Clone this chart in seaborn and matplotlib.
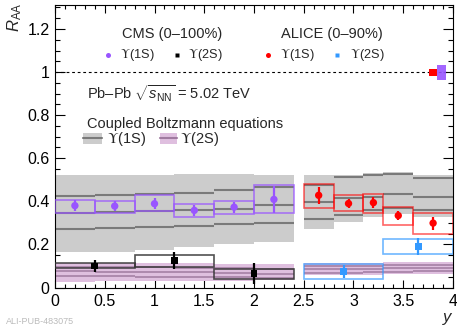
import numpy as np
import pandas as pd
import matplotlib
matplotlib.use("Agg")
import matplotlib.pyplot as plt
import seaborn as sns
from matplotlib.patches import Rectangle

# ---------------- data ----------------
# CMS Upsilon(1S), 0-100%
cms1s_lo = [0.0, 0.4, 0.8, 1.2, 1.6, 2.0]
cms1s_hi = [0.4, 0.8, 1.2, 1.6, 2.0, 2.4]
cms1s_x = [0.2, 0.6, 1.0, 1.4, 1.8, 2.2]
cms1s_val = [0.380, 0.378, 0.389, 0.358, 0.373, 0.409]
cms1s_stat = [0.024, 0.022, 0.026, 0.026, 0.026, 0.062]
cms1s_sys_lo = [0.346, 0.346, 0.355, 0.327, 0.343, 0.346]
cms1s_sys_hi = [0.405, 0.402, 0.431, 0.389, 0.400, 0.474]

# CMS Upsilon(2S), 0-100%
cms2s_lo = [0.0, 0.8, 1.6]
cms2s_hi = [0.8, 1.6, 2.4]
cms2s_x = [0.4, 1.2, 2.0]
cms2s_val = [0.100, 0.126, 0.064]
cms2s_stat = [0.027, 0.040, 0.050]
cms2s_sys_lo = [0.090, 0.094, 0.040]
cms2s_sys_hi = [0.112, 0.152, 0.084]

# ALICE Upsilon(1S), 0-90%
alice1s_lo = [2.5, 2.8, 3.1, 3.3, 3.6]
alice1s_hi = [2.8, 3.1, 3.3, 3.6, 4.0]
alice1s_x = [2.65, 2.95, 3.2, 3.45, 3.8]
alice1s_val = [0.428, 0.390, 0.394, 0.334, 0.299]
alice1s_stat = [0.040, 0.021, 0.026, 0.020, 0.030]
alice1s_sys_lo = [0.371, 0.353, 0.347, 0.291, 0.250]
alice1s_sys_hi = [0.482, 0.428, 0.436, 0.374, 0.347]

# ALICE Upsilon(2S), 0-90%
alice2s_lo = [2.5, 3.3]
alice2s_hi = [3.3, 4.0]
alice2s_x = [2.9, 3.65]
alice2s_val = [0.074, 0.192]
alice2s_stat = [0.030, 0.039]
alice2s_sys_lo = [0.040, 0.155]
alice2s_sys_hi = [0.110, 0.226]

# global uncertainties at unity
glob_x_lo = [3.76, 3.84]
glob_x_hi = [3.84, 3.93]
glob_lo = [0.983, 0.963]
glob_hi = [1.014, 1.033]

# Coupled Boltzmann model, Upsilon(1S)
mod_lo = [0.0, 0.4, 0.8, 1.2, 1.6, 2.0, 2.5, 2.8, 3.1, 3.3, 3.6]
mod_hi = [0.4, 0.8, 1.2, 1.6, 2.0, 2.4, 2.8, 3.1, 3.3, 3.6, 4.0]
m1s_top = [0.521, 0.521, 0.524, 0.526, 0.526, 0.522, 0.521, 0.520, 0.530, 0.535, 0.520]
m1s_bot = [0.164, 0.167, 0.176, 0.188, 0.204, 0.212, 0.273, 0.304, 0.327, 0.339, 0.327]
m1s_up = [0.423, 0.428, 0.436, 0.440, 0.453, 0.465, 0.478, 0.513, 0.521, 0.527, 0.510]
m1s_mid = [0.346, 0.350, 0.356, 0.358, 0.366, 0.381, 0.397, 0.416, 0.420, 0.432, 0.420]
m1s_low = [0.273, 0.276, 0.280, 0.287, 0.295, 0.299, 0.318, 0.336, 0.358, 0.370, 0.358]

# Coupled Boltzmann model, Upsilon(2S)
m2s_top = [0.114, 0.114, 0.113, 0.112, 0.111, 0.110, 0.112, 0.112, 0.113, 0.118, 0.118]
m2s_bot = [0.027, 0.028, 0.029, 0.030, 0.031, 0.033, 0.058, 0.058, 0.060, 0.063, 0.064]
m2s_up = [0.096, 0.095, 0.094, 0.092, 0.090, 0.086, 0.099, 0.099, 0.100, 0.104, 0.105]
m2s_mid = [0.075, 0.074, 0.072, 0.070, 0.067, 0.065, 0.084, 0.084, 0.085, 0.089, 0.090]
m2s_low = [0.053, 0.052, 0.051, 0.049, 0.047, 0.045, 0.069, 0.069, 0.070, 0.074, 0.075]

x_ticks = [0, 0.5, 1, 1.5, 2, 2.5, 3, 3.5, 4]
x_ticklabels = ["0", "0.5", "1", "1.5", "2", "2.5", "3", "3.5", "4"]
y_ticks = [0, 0.2, 0.4, 0.6, 0.8, 1.0, 1.2]
y_ticklabels = ["0", "0.2", "0.4", "0.6", "0.8", "1", "1.2"]

# ---------------- style ----------------
sns.set_theme(style="ticks")
plt.rcParams["font.family"] = ["Liberation Sans", "DejaVu Sans"]
plt.rcParams["mathtext.fontset"] = "custom"
plt.rcParams["mathtext.rm"] = "Liberation Sans"
plt.rcParams["mathtext.it"] = "Liberation Sans:italic"
plt.rcParams["mathtext.bf"] = "Liberation Sans:bold"

VIOLET = "#9955ff"
RED = "#ff0000"
BLUE = "#3399ff"
GRAY_FILL = "#cccccc"
GRAY_LINE = "#7a7a7a"
PINK_FILL = "#dfbfdf"
PINK_LINE = "#a07aa0"

fig = plt.figure(figsize=(4.57, 3.27), dpi=100)
ax = fig.add_axes([55 / 457, 1 - 287.5 / 327, 398 / 457, (287.5 - 4.7) / 327])

# ---- model bands ----
for lo, hi, t, b, u, m, l in zip(mod_lo, mod_hi, m1s_top, m1s_bot, m1s_up, m1s_mid, m1s_low):
    ax.fill_between([lo, hi], [b, b], [t, t], color=GRAY_FILL, lw=0, zorder=1)
    ax.hlines([u, m, l], lo, hi, color=GRAY_LINE, lw=1.5, zorder=2)
for lo, hi, t, b, u, m, l in zip(mod_lo, mod_hi, m2s_top, m2s_bot, m2s_up, m2s_mid, m2s_low):
    ax.fill_between([lo, hi], [b, b], [t, t], color=PINK_FILL, lw=0, zorder=1)
    ax.hlines([u, m, l], lo, hi, color=PINK_LINE, lw=1.1, zorder=2)

# ---- systematic boxes ----
def boxes(los, his, ylo, yhi, color, alpha=1.0):
    for lo, hi, a, b in zip(los, his, ylo, yhi):
        ax.add_patch(Rectangle((lo, a), hi - lo, b - a, fill=False,
                               edgecolor=color, lw=1.2, alpha=alpha, zorder=3))

boxes(cms1s_lo, cms1s_hi, cms1s_sys_lo, cms1s_sys_hi, VIOLET, 0.75)
boxes(cms2s_lo, cms2s_hi, cms2s_sys_lo, cms2s_sys_hi, "#333333", 0.85)
boxes(alice1s_lo, alice1s_hi, alice1s_sys_lo, alice1s_sys_hi, RED, 0.6)
boxes(alice2s_lo, alice2s_hi, alice2s_sys_lo, alice2s_sys_hi, BLUE, 0.7)

# ---- global uncertainty boxes ----
ax.axhline(1.0, color="black", lw=0.8, ls=(0, (2.5, 2.5)), zorder=2)
for lo, hi, a, b, c in zip(glob_x_lo, glob_x_hi, glob_lo, glob_hi, [RED, VIOLET]):
    ax.add_patch(Rectangle((lo, a), hi - lo, b - a, facecolor=c, edgecolor="none",
                           alpha=0.9 if c == VIOLET else 1.0, zorder=4))

# ---- points with statistical errors ----
sets = [
    (cms1s_x, cms1s_val, cms1s_stat, VIOLET, "o", 28),
    (cms2s_x, cms2s_val, cms2s_stat, "black", "s", 24),
    (alice1s_x, alice1s_val, alice1s_stat, RED, "o", 28),
    (alice2s_x, alice2s_val, alice2s_stat, BLUE, "s", 24),
]
for xs, ys, es, c, mk, s in sets:
    ax.errorbar(xs, ys, yerr=es, fmt="none", ecolor=c, elinewidth=1.6, capsize=0, zorder=5)
    df = pd.DataFrame({"y": xs, "raa": ys})
    sns.scatterplot(data=df, x="y", y="raa", color=c, marker=mk, s=s,
                    edgecolor="none", linewidth=0, ax=ax, zorder=6, legend=False)

# ---- axes ----
ax.set_xlim(0, 4)
ax.set_ylim(0, 1.313)
ax.set_xlabel("")
ax.set_ylabel("")
ax.set_xticks(x_ticks)
ax.set_xticklabels(x_ticklabels)
ax.set_yticks(y_ticks)
ax.set_yticklabels(y_ticklabels)
ax.set_xticks(np.arange(0, 4.001, 0.1), minor=True)
ax.set_yticks(np.arange(0, 1.301, 0.05), minor=True)
ax.tick_params(which="both", direction="in", top=True, right=True, colors="black",
               labelsize=11.5)
ax.tick_params(axis="x", which="major", length=6, width=0.8, pad=5)
ax.tick_params(axis="x", which="minor", length=3, width=0.8)
ax.tick_params(axis="y", which="major", length=7.5, width=0.8, pad=4)
ax.tick_params(axis="y", which="minor", length=3.8, width=0.8)
for sp in ax.spines.values():
    sp.set_visible(True)
    sp.set_color("black")
    sp.set_linewidth(0.8)

fig.text(15 / 457, 1 - 2 / 327, r"$R_{\mathrm{AA}}$", rotation=90, ha="center",
         va="top", fontsize=12)
fig.text(448 / 457, 1 - 319 / 327, r"$y$", ha="center", va="center", fontsize=12)

# ---- legends / annotations ----
def ups(x, y, label, fs):
    ax.text(x, y, r"$\Upsilon$" + label, math_fontfamily="stix", fontsize=fs,
            ha="left", va="center")

FS = 10.5
LFS = 9.2
ax.text(1.175, 1.178, "CMS (0–100%)", fontsize=FS, ha="center", va="center")
ax.plot([0.533], [1.080], "o", color=VIOLET, ms=3.6, mec="none")
ups(0.655, 1.080, "(1S)", LFS)
ax.plot([1.226], [1.080], "s", color="black", ms=3.4, mec="none")
ups(1.337, 1.080, "(2S)", LFS)

ax.text(2.784, 1.178, "ALICE (0–90%)", fontsize=FS, ha="center", va="center")
ax.plot([2.141], [1.080], "o", color=RED, ms=3.6, mec="none")
ups(2.262, 1.080, "(1S)", LFS)
ax.plot([2.834], [1.080], "s", color=BLUE, ms=3.4, mec="none")
ups(2.965, 1.080, "(2S)", LFS)

ax.text(0.325, 0.899, r"Pb–Pb $\sqrt{s_{\mathrm{NN}}}$ = 5.02 TeV", fontsize=FS,
        ha="left", va="center")
ax.text(0.325, 0.760, "Coupled Boltzmann equations", fontsize=FS, ha="left", va="center")
ax.add_patch(Rectangle((0.281, 0.667), 0.19, 0.052, facecolor=GRAY_FILL, edgecolor="none"))
ax.plot([0.281, 0.471], [0.693, 0.693], color=GRAY_LINE, lw=1.5)
ups(0.523, 0.690, "(1S)", FS)
ax.add_patch(Rectangle((1.055, 0.667), 0.17, 0.052, facecolor=PINK_FILL, edgecolor="none"))
ax.plot([1.055, 1.225], [0.693, 0.693], color=PINK_LINE, lw=1.5)
ups(1.256, 0.690, "(2S)", FS)

fig.text(6 / 457, 1 / 327, "ALI-PUB-483075", fontsize=6.5, color="#bbbbbb",
         ha="left", va="bottom")

fig.savefig("out.png", dpi=100)
